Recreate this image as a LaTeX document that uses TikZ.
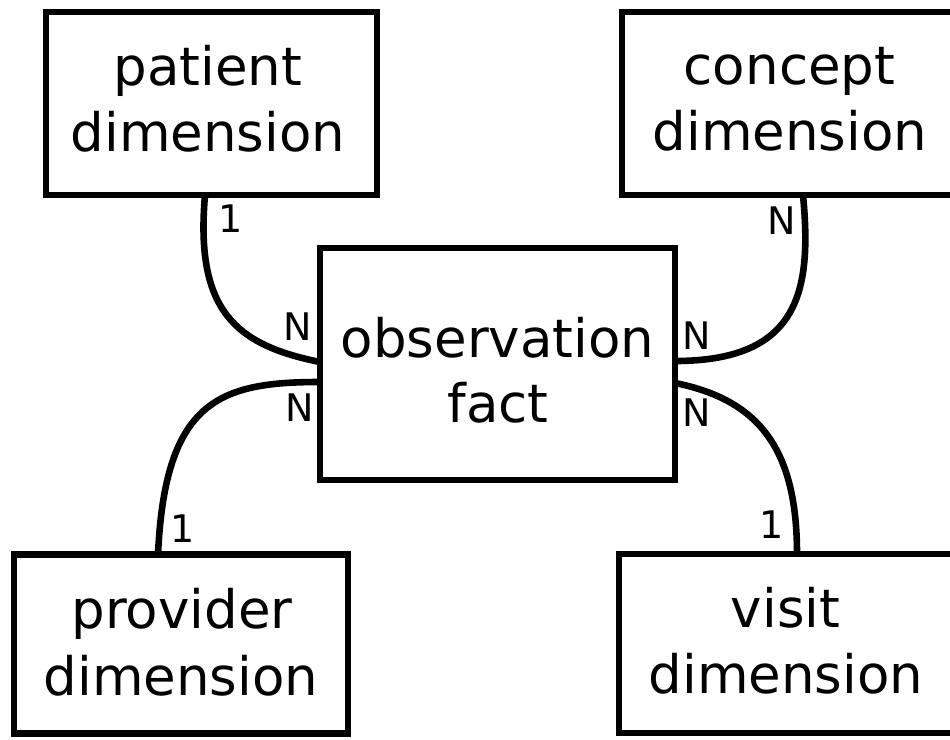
\documentclass[tikz,border=0pt]{standalone}
\usepackage{fontspec}
\setmainfont{DejaVu Sans}
\begin{document}
\begin{tikzpicture}[x=1pt,y=-1pt,
  entity/.style={draw=black, line width=6.7pt, rectangle, inner sep=0pt, outer sep=0pt},
  etext/.style={anchor=base, inner sep=0pt, font=\fontsize{53}{66}\selectfont},
  conn/.style={draw=black, line width=6.6pt},
  card/.style={inner sep=0pt, font=\fontsize{38}{38}\selectfont}]
\useasboundingbox[fill=white] (0,0) rectangle (950,739);
\node[entity, minimum width=331pt, minimum height=183pt] (pat) at (211.5,103.5) {};
\node[entity, minimum width=336pt, minimum height=183pt] (con) at (790,103.5) {};
\node[entity, minimum width=355pt, minimum height=232pt] (obs) at (497.5,364) {};
\node[entity, minimum width=334pt, minimum height=179pt] (pro) at (181,644) {};
\node[entity, minimum width=334pt, minimum height=179pt] (vis) at (786,643.5) {};

\node[etext] (pat1) at (208,85) {patient};
\node[etext] (pat2) at (208,151.5) {dimension};
\node[etext] (con1) at (789.5,84) {concept};
\node[etext] (con2) at (790,150.5) {dimension};
\node[etext] (obs1) at (497.5,357) {observation};
\node[etext] (obs2) at (498,422.5) {fact};
\node[etext] (pro1) at (182,628.5) {provider};
\node[etext] (pro2) at (181,695) {dimension};
\node[etext] (vis1) at (785.5,627) {visit};
\node[etext] (vis2) at (786,693.5) {dimension};

\draw[conn] ([xshift=-6.5pt]pat.south) .. controls (195,310) and (235,345) .. ([yshift=2pt]obs.west);
\draw[conn] ([yshift=-18pt]obs.west) .. controls (220,382) and (165,400) .. ([xshift=-23pt]pro.north);
\draw[conn] ([xshift=13pt]con.south) .. controls (812,290) and (800,361) .. ([yshift=3pt]obs.east);
\draw[conn] ([yshift=-19pt]obs.east) .. controls (760,400) and (797,450) .. ([xshift=11pt]vis.north);

\node[card] (c1) at (231,219) {1};
\node[card] (c2) at (298,327) {N};
\node[card] (c3) at (300,408) {N};
\node[card] (c4) at (183,529) {1};
\node[card] (c5) at (782,221) {N};
\node[card] (c6) at (697,336) {N};
\node[card] (c7) at (697,413) {N};
\node[card] (c8) at (772,525) {1};
\end{tikzpicture}
\end{document}
